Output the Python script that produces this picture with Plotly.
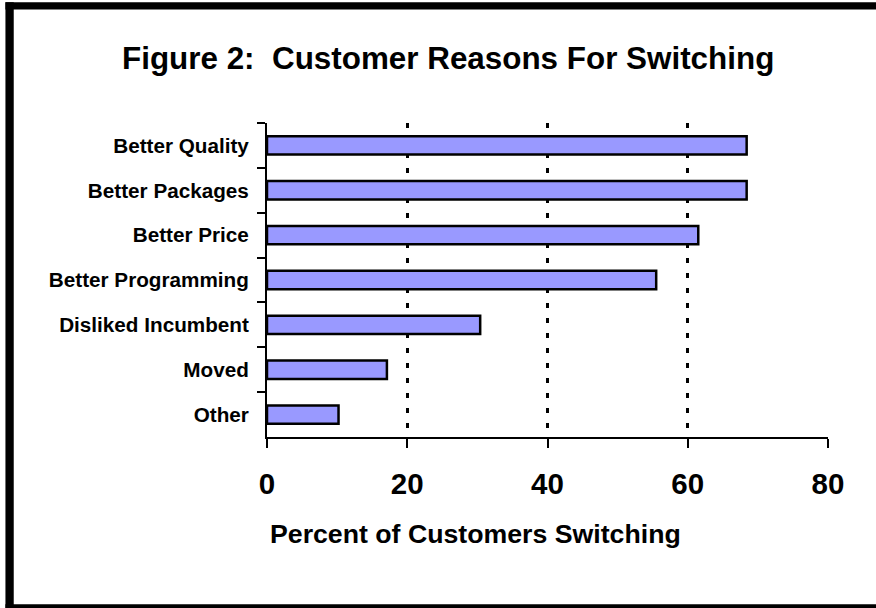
import plotly.graph_objects as go

categories = ["Better Quality", "Better Packages", "Better Price", "Better Programming",
              "Disliked Incumbent", "Moved", "Other"]
values = [68.4, 68.4, 61.5, 55.5, 30.4, 17.1, 10.2]
x_ticks = [0, 20, 40, 60, 80]
title_text = "Figure 2:\u00a0 Customer Reasons For Switching"
x_title = "Percent of Customers Switching"

OFF = 0  # body margin removed via post_script
W, H = 876 - OFF, 608 - OFF
L, R, T, B = 266.7 - OFF, 828.0 - OFF, 122.7 - OFF, 436.7 - OFF
PW, PH = R - L, B - T

def px2x(px):
    return (px - OFF - L) / PW

def px2y(py):
    return (B - (py - OFF)) / PH

FONT = "Liberation Sans, Arial, sans-serif"

fig = go.Figure()
fig.add_trace(go.Bar(
    y=categories, x=values, orientation="h",
    marker=dict(color="#9999FF", line=dict(color="black", width=2.5)),
    width=0.41,
))

shapes = []
# frame: left, top, bottom thick black bands (reference page pixel coords)
for x0, y0, x1, y1 in [(5, 2, 13.3, 620), (5, 2, 900, 9.3), (5, 604, 900, 620)]:
    shapes.append(dict(type="rect", xref="paper", yref="paper",
                       x0=px2x(x0), x1=px2x(x1), y0=px2y(y0), y1=px2y(y1),
                       fillcolor="black", line=dict(width=0), layer="above"))

fig.update_layout(
    width=W, height=H,
    margin=dict(l=L, r=W - R, t=T, b=H - B, pad=0),
    paper_bgcolor="white", plot_bgcolor="white",
    showlegend=False,
    shapes=shapes,
    font=dict(family=FONT, color="black"),
    annotations=[
        dict(text=title_text, xref="paper", yref="paper", x=px2x(448), y=px2y(58.5),
             xanchor="center", yanchor="middle", showarrow=False,
             font=dict(size=31.4, family=FONT, weight="bold", color="black")),
        dict(text=x_title, xref="paper", yref="paper", x=px2x(475.3), y=px2y(534),
             xanchor="center", yanchor="middle", showarrow=False,
             font=dict(size=26.7, family=FONT, weight="bold", color="black")),
    ],
)

fig.update_xaxes(
    range=[0, 80], tickvals=x_ticks, ticktext=[str(v) for v in x_ticks],
    showline=True, linecolor="black", linewidth=2,
    ticks="outside", ticklen=9, tickwidth=2, tickcolor="black",
    showgrid=True, gridcolor="black", gridwidth=2.5, griddash="5px,10px",
    zeroline=False,
    tickfont=dict(size=29.5, family=FONT, weight="bold", color="black"),
    ticklabelstandoff=11,
    fixedrange=True,
)
fig.update_yaxes(
    categoryorder="array", categoryarray=categories, autorange="reversed",
    showline=True, linecolor="black", linewidth=2,
    ticks="outside", tickson="boundaries", ticklen=8, tickwidth=2, tickcolor="black",
    showgrid=False, zeroline=False,
    tickfont=dict(size=20.7, family=FONT, weight="bold", color="black"),
    ticklabelstandoff=12,
    fixedrange=True,
)

fig.write_html(
    "out.html",
    config={"displayModeBar": False},
    post_script="document.body.style.margin='0';document.body.style.overflow='hidden';",
)
